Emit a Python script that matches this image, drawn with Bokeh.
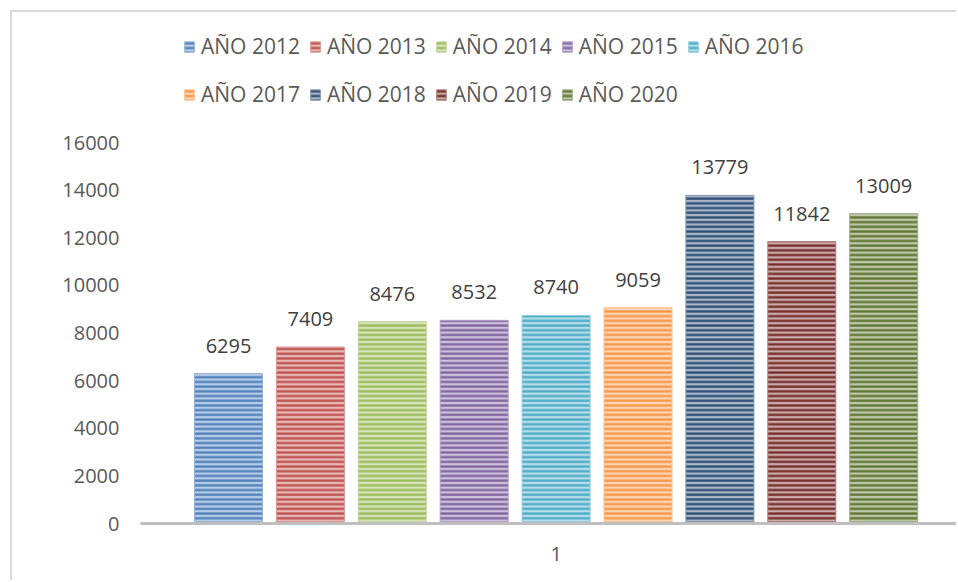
from bokeh.plotting import figure
from bokeh.models import (ColumnDataSource, Range1d, FixedTicker, Legend, LegendItem)
from bokeh.core.properties import value
from bokeh.embed import file_html
from bokeh.resources import INLINE

# ---- data ----
series = ["AÑO 2012", "AÑO 2013", "AÑO 2014", "AÑO 2015", "AÑO 2016",
          "AÑO 2017", "AÑO 2018", "AÑO 2019", "AÑO 2020"]
values = [6295, 7409, 8476, 8532, 8740, 9059, 13779, 11842, 13009]
base_colors = ["#4F81BD", "#C0504D", "#9BBB59", "#8064A2", "#4BACC6",
               "#F79646", "#2C4D75", "#772C2A", "#5F7530"]
y_ticks = [0, 2000, 4000, 6000, 8000, 10000, 12000, 14000, 16000]
category_label = "1"

FONT = "Open Sans"


def tint(hex_color, f):
    h = hex_color.lstrip("#")
    r, g, b = (int(h[i:i + 2], 16) for i in (0, 2, 4))
    r = int(r + (255 - r) * f)
    g = int(g + (255 - g) * f)
    b = int(b + (255 - b) * f)
    return "#%02X%02X%02X" % (r, g, b)


# ---- layout constants (pixels) ----
OFF = 12                      # canvas origin on page (margin 10 + border 2)
W, H = 958 - OFF, 582 - OFF
frame_left = 140 - OFF
frame_bottom_px = 523 - OFF
step_px = 81.9
first_center_px = 228 - 140   # center of first bar from frame left
frame_w = W - frame_left
frame_h = frame_bottom_px
px_per_unit = 381 / 16000

x_start = -first_center_px / step_px
x_end = x_start + frame_w / step_px
y_end = frame_h / px_per_unit

p = figure(width=W, height=H, output_backend="svg", toolbar_location=None,
           x_range=Range1d(x_start, x_end), y_range=Range1d(0, y_end),
           min_border_left=frame_left, min_border_right=0, min_border_top=0,
           min_border_bottom=H - frame_bottom_px)
p.margin = (10, 0, 0, 10)
p.styles = {"border-left": "2px solid #D9D9D9", "border-top": "2px solid #D9D9D9"}
p.outline_line_color = None
p.xgrid.visible = False
p.ygrid.visible = False
p.background_fill_color = "white"
p.border_fill_color = "white"

renderers = []
for i, (name, v, c) in enumerate(zip(series, values, base_colors)):
    src = ColumnDataSource(dict(x=[i], top=[v], label=[str(v)]))
    r = p.vbar(x="x", top="top", width=68 / step_px, bottom=0, source=src,
               fill_color=tint(c, 0.6), line_color=tint(c, 0.4), line_width=1,
               hatch_pattern="horizontal_line", hatch_color=c,
               hatch_scale=4.7, hatch_weight=2.3)
    renderers.append(r)
    p.text(x="x", y="top", text="label", source=src, y_offset=-28,
           text_align="center", text_baseline="alphabetic",
           text_font=value(FONT), text_font_size="20px", text_color="#404040")

# y axis
p.yaxis.ticker = FixedTicker(ticks=y_ticks)
p.yaxis.axis_line_color = None
p.yaxis.major_tick_line_color = None
p.yaxis.minor_tick_line_color = None
p.yaxis.major_label_standoff = 15
p.yaxis.major_label_text_font = FONT
p.yaxis.major_label_text_font_size = "20px"
p.yaxis.major_label_text_color = "#595959"

# x axis
mid = (len(series) - 1) / 2
p.xaxis.ticker = FixedTicker(ticks=[mid])
p.xaxis.major_label_overrides = {mid: category_label}
p.xaxis.axis_line_color = "#BFBFBF"
p.xaxis.axis_line_width = 3
p.xaxis.major_tick_line_color = None
p.xaxis.minor_tick_line_color = None
p.xaxis.major_label_standoff = 17
p.xaxis.major_label_text_font = FONT
p.xaxis.major_label_text_font_size = "20px"
p.xaxis.major_label_text_color = "#595959"

# legends (two rows)
rows = [(0, 5, 463), (5, 9, 415)]
for a, b, ybot in rows:
    items = [LegendItem(label=series[k], renderers=[renderers[k]]) for k in range(a, b)]
    lg = Legend(items=items, orientation="horizontal", location=(43, ybot),
                glyph_width=12, glyph_height=13, label_standoff=6, spacing=9,
                padding=0, margin=0, border_line_color=None,
                background_fill_alpha=0,
                label_text_font=FONT, label_text_font_size="21px",
                label_text_color="#595959", label_height=20)
    p.add_layout(lg, "center")

open("out.html", "w").write(file_html(p, INLINE))
